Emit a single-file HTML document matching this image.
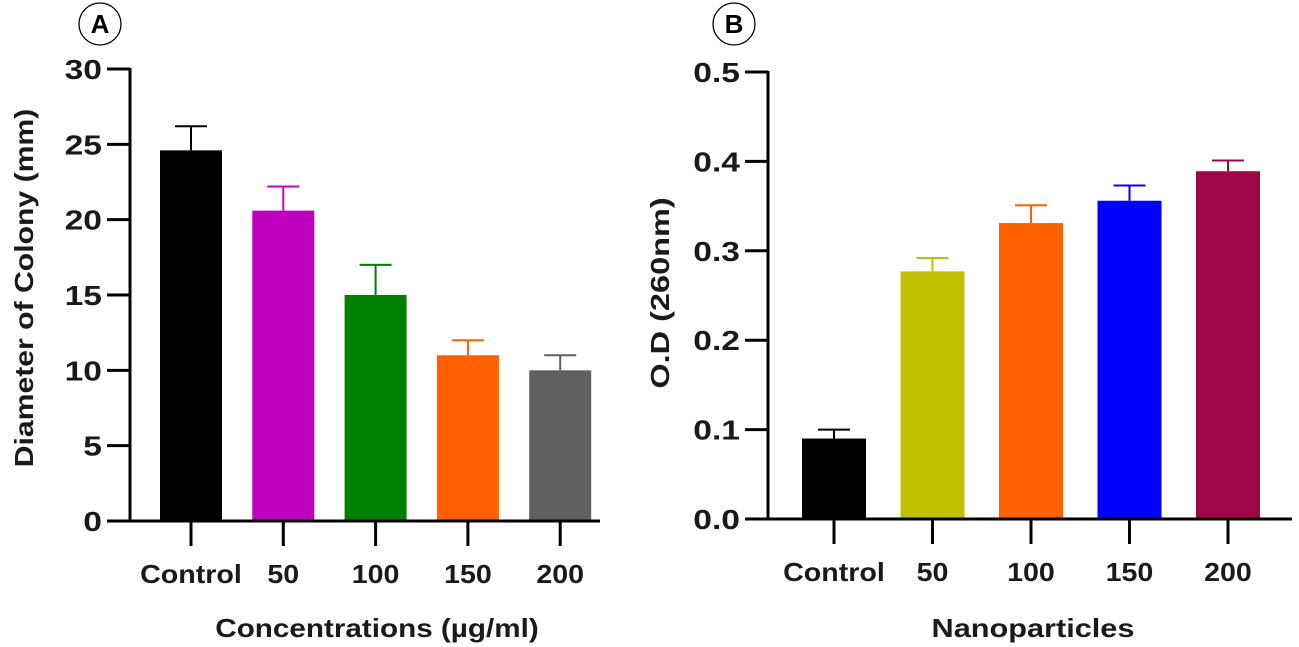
<!DOCTYPE html>
<html><head><meta charset="utf-8"><style>
html,body{margin:0;padding:0;background:#fff;}
svg{display:block;font-family:"Liberation Sans",Arial,sans-serif;font-weight:bold;}
</style></head><body>
<svg id="chart" width="1299" height="647" viewBox="0 0 1299 647"></svg>
<script>
const catsA = ["Control","50","100","150","200"];
const valsA = [24.6,20.6,15,11,10];
const errA = [1.6,1.6,2,1,1];
const colorsA = ["#000000","#bf00bf","#007f00","#ff6000","#606060"];
const ticksA = [0,5,10,15,20,25,30];
const tickLabelsA = ["0","5","10","15","20","25","30"];

const catsB = ["Control","50","100","150","200"];
const valsB = [0.09,0.277,0.331,0.356,0.389];
const errB = [0.01,0.015,0.02,0.017,0.012];
const colorsB = ["#000000","#c0c000","#ff6000","#0000ff","#9e0648"];
const ticksB = [0,0.1,0.2,0.3,0.4,0.5];
const tickLabelsB = ["0.0","0.1","0.2","0.3","0.4","0.5"];

const NS="http://www.w3.org/2000/svg";
const svg=document.getElementById('chart');
function mk(tag,attrs,parent){const e=document.createElementNS(NS,tag);for(const k in attrs)e.setAttribute(k,attrs[k]);(parent||svg).appendChild(e);return e;}
function stretch(t,f){const L=t.getComputedTextLength();if(L>0){t.setAttribute('textLength',(L*f).toFixed(1));t.setAttribute('lengthAdjust','spacingAndGlyphs');}}

function panel(cfg){
  const g=mk('g',{});
  
  
  const y=v=>cfg.y0-(v-cfg.ymin)/(cfg.ymax-cfg.ymin)*(cfg.y0-cfg.y1);
  const x=i=>cfg.xStart+i*cfg.step;
  cfg.vals.forEach((v,i)=>{
    const cx=x(i);
    const top=y(v+cfg.err[i]);
    const el=mk('line',{x1:cx,x2:cx,y1:y(v),y2:top,stroke:cfg.colors[i],'stroke-width':2},g);
    
    
    const cap=mk('line',{x1:cx-16,x2:cx+16,y1:top,y2:top,stroke:cfg.colors[i],'stroke-width':2},g);
    
    
    const r=mk('rect',{x:cx-cfg.bw/2,y:y(v),width:cfg.bw,height:cfg.y0-y(v),fill:cfg.colors[i]},g);
    
    
  });
  const ya=mk('line',{x1:cfg.ax,x2:cfg.ax,y1:cfg.y1-1,y2:cfg.y0+1,stroke:'#000','stroke-width':3},g);
  
  
  const xa=mk('line',{x1:cfg.ax-23,x2:cfg.xEnd,y1:cfg.y0,y2:cfg.y0,stroke:'#000','stroke-width':3},g);
  
  
  cfg.ticks.forEach((t,i)=>{
    const ty=y(t);
    mk('line',{x1:cfg.ax-23,x2:cfg.ax,y1:ty,y2:ty,stroke:'#000','stroke-width':3},g);
    const tx=mk('text',{x:cfg.ax-28,y:ty+10,'text-anchor':'end','font-size':28,fill:'#1a1a1a'},g);
    tx.textContent=cfg.tickLabels[i];
    
    
    stretch(tx,1.2);
  });
  cfg.cats.forEach((c,i)=>{
    const cx=x(i);
    mk('line',{x1:cx,x2:cx,y1:cfg.y0,y2:cfg.y0+25,stroke:'#000','stroke-width':3},g);
    const tx=mk('text',{x:cx,y:cfg.y0+62,'text-anchor':'middle','font-size':26,fill:'#1a1a1a'},g);
    tx.textContent=c;
    
    
    stretch(tx,1.1);
  });
  const xt=mk('text',{x:cfg.xtX,y:637,'text-anchor':'middle','font-size':26,fill:'#1a1a1a'},g);
  xt.textContent=cfg.xtitle;
  
  
  stretch(xt,cfg.xtF);
  const yt=mk('text',{x:0,y:0,'text-anchor':'middle','font-size':26,fill:'#1a1a1a',transform:`translate(${cfg.ytX},${cfg.ytY}) rotate(-90)`},g);
  yt.textContent=cfg.ytitle;
  
  
  stretch(yt,cfg.ytF);
  const c=mk('circle',{cx:cfg.lx,cy:24,r:21,fill:'#fff',stroke:'#000','stroke-width':1.3},g);
  
  
  const lt=mk('text',{x:cfg.lx,y:33,'text-anchor':'middle','font-size':26,fill:'#000'},g);
  lt.textContent=cfg.label;
  
  
}
panel({name:'panel-a',cats:catsA,vals:valsA,err:errA,colors:colorsA,ticks:ticksA,tickLabels:tickLabelsA,
  ymin:0,ymax:30,y0:521,y1:69,ax:130,xStart:191,step:92.3,bw:62,xEnd:600,
  xtitle:'Concentrations (µg/ml)',xtX:377,xtF:1.14,ytitle:'Diameter of Colony (mm)',ytX:33,ytY:288,ytF:1.16,lx:100,label:'A'});
panel({name:'panel-b',cats:catsB,vals:valsB,err:errB,colors:colorsB,ticks:ticksB,tickLabels:tickLabelsB,
  ymin:0,ymax:0.5,y0:519,y1:72,ax:768,xStart:834,step:98.5,bw:64,xEnd:1292,
  xtitle:'Nanoparticles',xtX:1033,xtF:1.18,ytitle:'O.D (260nm)',ytX:669,ytY:293,ytF:1.25,lx:734,label:'B'});
</script>
</body></html>
